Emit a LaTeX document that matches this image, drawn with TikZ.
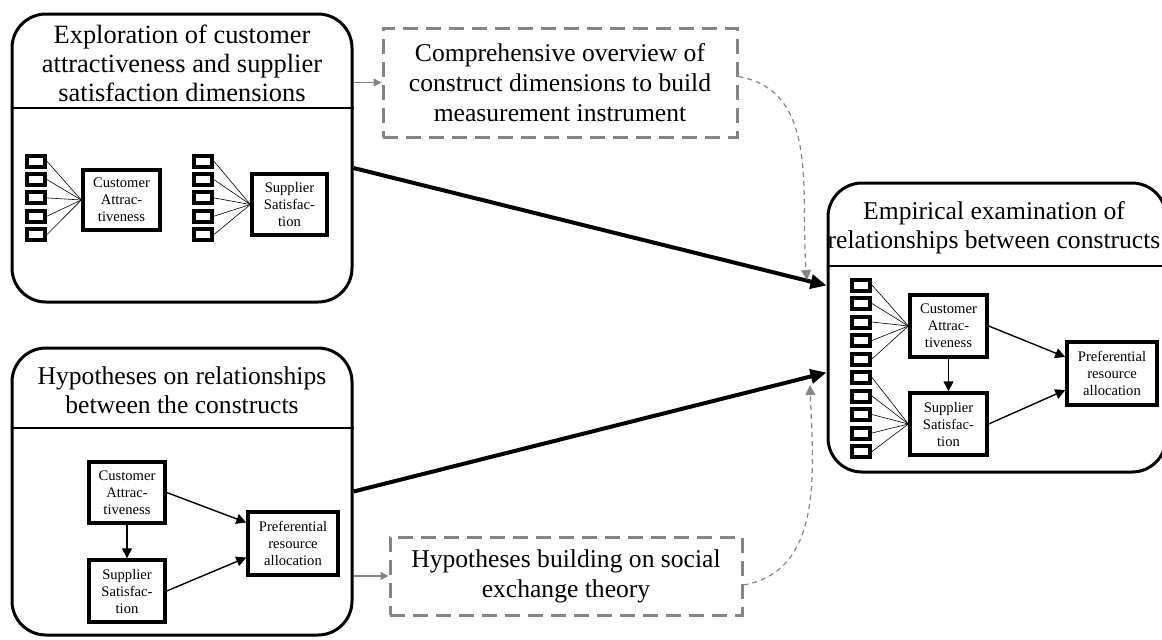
\documentclass[tikz,border=0pt]{standalone}
\usepackage{fontspec}
\setmainfont{Liberation Serif}
\usetikzlibrary{arrows.meta}
\definecolor{dashgray}{HTML}{858585}

\begin{document}
\begin{tikzpicture}[x=0.5pt,y=-0.5pt,
  stage/.style={draw,line width=1.5pt,rounded corners=17pt,inner sep=0pt},
  stagetitle/.style={align=center,font=\fontsize{12.8}{14.5}\selectfont,inner sep=0pt},
  outcome/.style={draw=dashgray,line width=1.5pt,dash pattern=on 7.5pt off 4pt,align=center,font=\fontsize{12.8}{15}\selectfont,inner sep=0pt},
  construct/.style={draw,line width=1.7pt,align=center,font=\fontsize{7.3}{8.5}\selectfont,inner sep=0pt},
  itembox/.style={draw,line width=2pt,minimum width=9pt,minimum height=5.5pt,inner sep=0pt},
  loading/.style={line width=0.3pt},
  causalarrow/.style={line width=0.7pt,-{Triangle[length=5pt,width=5pt]}},
  stagearrow/.style={line width=2pt,-{Triangle[length=8pt,width=7pt]}},
  feedarrow/.style={dashgray,line width=0.8pt,-{Triangle[length=4pt,width=4pt]}},
  linkarrow/.style={dashgray,line width=0.6pt,dash pattern=on 2.5pt off 2pt,-{Triangle[length=5pt,width=5pt]}}]
\useasboundingbox (0,0) rectangle (1162,639);

% exploration stage
\node[stage,minimum width=170pt,minimum height=144pt] (expl) at (182,158) {};
\node[stagetitle,font=\fontsize{13.2}{14.5}\selectfont] (expltitle) at (182,63) {Exploration of customer\\attractiveness and supplier\\satisfaction dimensions};
\draw[line width=0.7pt] (expl.west|-0,108) -- (expl.east|-0,108);
\node[construct,minimum width=38.5pt,minimum height=30pt] (ca1) at (121.5,200) {Customer\\Attrac-\\tiveness};
\node[construct,minimum width=37.5pt,minimum height=30.5pt] (ss1) at (289.5,204.5) {Supplier\\Satisfac-\\tion};
\foreach \i in {1,...,5} \node[itembox] (a\i) at (36,{143+18.3*\i}) {};
\foreach \i in {1,...,5} \node[itembox] (b\i) at (203,{143+18.3*\i}) {};
\foreach \i in {1,...,5} \draw[loading] (a\i.east) -- (ca1.west);
\foreach \i in {1,...,5} \draw[loading] (b\i.east) -- (ss1.west);

% hypotheses stage
\node[stage,minimum width=170pt,minimum height=143.5pt] (hyp) at (182,491.5) {};
\node[stagetitle] (hyptitle) at (182,390) {Hypotheses on relationships\\between the constructs};
\draw[line width=0.7pt] (hyp.west|-0,428) -- (hyp.east|-0,428);
\node[construct,minimum width=38pt,minimum height=30.5pt] (ca2) at (127,492.5) {Customer\\Attrac-\\tiveness};
\node[construct,minimum width=38pt,minimum height=31pt] (ss2) at (127,591) {Supplier\\Satisfac-\\tion};
\node[construct,minimum width=45pt,minimum height=31.5pt] (pra2) at (293,543.5) {Preferential\\resource\\allocation};
\draw[causalarrow] (ca2) -- (ss2);
\draw[causalarrow] (ca2.east) -- ([yshift=10.5pt]pra2.west);
\draw[causalarrow] (ss2.east) -- ([yshift=-7pt]pra2.west);

% outcomes
\node[outcome,minimum width=177pt,minimum height=54.5pt] (ov) at (560,82.5) {Comprehensive overview of\\construct dimensions to build\\measurement instrument};
\node[outcome,minimum width=176pt,minimum height=39pt] (sxt) at (566,576) {Hypotheses building on social\\exchange theory};
\draw[feedarrow] (expl.east|-ov.west) -- (ov.west);
\draw[feedarrow] (hyp.east|-sxt.west) -- (sxt.west);

% empirical stage
\node[stage,minimum width=169pt,minimum height=144.5pt] (emp) at (997,327.5) {};
\node[stagetitle] (emptitle) at (994,228) {Empirical examination of\\relationships between constructs};
\draw[line width=0.7pt] (emp.west|-0,266) -- (emp.east|-0,266);
\node[construct,minimum width=38.5pt,minimum height=31pt] (ca3) at (948.5,326) {Customer\\Attrac-\\tiveness};
\node[construct,minimum width=38.5pt,minimum height=31pt] (ss3) at (948.5,424) {Supplier\\Satisfac-\\tion};
\node[construct,minimum width=45pt,minimum height=31.5pt] (pra3) at (1112,373.5) {Preferential\\resource\\allocation};
\foreach \i in {1,...,10} \node[itembox] (c\i) at (861,{266.5+18.5*\i}) {};
\foreach \i in {1,...,5} \draw[loading] (c\i.east) -- (ca3.west);
\foreach \i in {6,...,10} \draw[loading] (c\i.east) -- (ss3.west);
\draw[causalarrow] (ca3) -- (ss3);
\draw[causalarrow] (ca3.east) -- ([yshift=8.25pt]pra3.west);
\draw[causalarrow] (ss3.east) -- ([yshift=-8.25pt]pra3.west);

% stage flow
\draw[stagearrow] ([yshift=-5pt]expl.east) -- ([yshift=21pt]emp.west);
\draw[stagearrow] (hyp.east) -- ([yshift=-22.5pt]emp.west);
\coordinate (ovend) at (807,280);
\coordinate (sxtend) at (810,385);
\draw[linkarrow] ([yshift=3pt]ov.east) to[out=-10,in=95] (ovend);
\draw[linkarrow] ([yshift=-4.5pt]sxt.east) to[out=10,in=-88] (sxtend);
\end{tikzpicture}
\end{document}
